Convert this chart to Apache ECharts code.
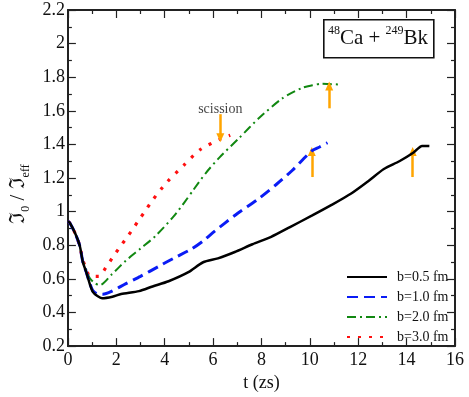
<!DOCTYPE html>
<html>
<head>
<meta charset="UTF-8">
<title>moment of inertia ratio</title>
<script src="https://cdn.jsdelivr.net/npm/echarts@6/dist/echarts.min.js"></script>
<style>
  html, body { margin: 0; padding: 0; background: #fff; }
  #main { width: 469px; height: 397px; }
</style>
</head>
<body>
<div id="main"></div>
<script>
// data
var tB05 = [0, 0.08, 0.29, 0.49, 0.62, 0.76, 0.9, 1.03, 1.22, 1.41, 1.84, 2.2, 2.94, 3.5, 4.16, 4.98, 5.59, 6.2, 6.9, 7.63, 8.4, 9.2, 10.08, 10.9, 11.71, 12.4, 13.06, 13.7, 14.29, 14.64, 14.94];
var yB05 = [0.943, 0.933, 0.874, 0.797, 0.699, 0.64, 0.572, 0.523, 0.498, 0.485, 0.494, 0.51, 0.527, 0.555, 0.586, 0.64, 0.699, 0.722, 0.76, 0.806, 0.85, 0.91, 0.976, 1.04, 1.108, 1.18, 1.254, 1.3, 1.352, 1.391, 1.39];

var tB10 = [0, 0.08, 0.29, 0.49, 0.62, 0.76, 0.9, 1.03, 1.2, 1.44, 1.8, 2.4, 3.0, 3.76, 4.4, 5.1, 5.59, 6.07, 6.94, 7.9, 8.6, 9.27, 10.08, 10.4, 10.73];
var yB10 = [0.943, 0.933, 0.874, 0.797, 0.699, 0.64, 0.575, 0.53, 0.512, 0.508, 0.525, 0.572, 0.615, 0.675, 0.725, 0.777, 0.826, 0.884, 0.982, 1.079, 1.16, 1.245, 1.362, 1.385, 1.41];

var tB20 = [0, 0.08, 0.29, 0.49, 0.62, 0.76, 0.9, 1.1, 1.33, 1.8, 2.4, 3.0, 3.62, 4.37, 4.84, 5.18, 5.7, 6.27, 7.09, 7.9, 8.86, 9.67, 10.1, 10.49, 11.17];
var yB20 = [0.943, 0.933, 0.874, 0.797, 0.705, 0.655, 0.605, 0.575, 0.563, 0.625, 0.709, 0.78, 0.855, 0.972, 1.06, 1.128, 1.23, 1.323, 1.44, 1.557, 1.674, 1.736, 1.752, 1.761, 1.757];

var tB30 = [0, 0.08, 0.29, 0.49, 0.62, 0.76, 0.9, 1.28, 1.58, 1.85, 2.12, 2.4, 2.67, 2.94, 3.21, 3.48, 4.1, 4.78, 5.46, 6.27, 6.71];
var yB30 = [0.943, 0.933, 0.874, 0.797, 0.71, 0.66, 0.615, 0.615, 0.67, 0.728, 0.783, 0.839, 0.894, 0.952, 1.007, 1.065, 1.177, 1.274, 1.368, 1.43, 1.455];

// orange arrows (scission points)
var arrowT    = [6.3, 10.08, 10.8, 14.25];
var arrowFrom = [1.58, 1.206, 1.615, 1.206];
var arrowTo   = [1.44, 1.358, 1.748, 1.358];
var scissionLabel = { t: 6.3, y: 1.611, text: 'scission' };

var seriesNames = ['b=0.5 fm', 'b=1.0 fm', 'b=2.0 fm', 'b=3.0 fm'];

var xTicks = { min: 0, max: 16, interval: 2 };
var yTicks = { min: 0.2, max: 2.2, interval: 0.2 };

function pairs(t, y) {
    var out = [];
    for (var i = 0; i < t.length; i++) out.push([t[i], y[i]]);
    return out;
}

var serif = '"Liberation Serif", "DejaVu Serif", serif';
var axisColor = '#222';

function frameAxis(base, pos, showLabel) {
    return Object.assign({
        type: 'value',
        position: pos,
        axisLine: { show: true, onZero: false, lineStyle: { color: axisColor, width: 2 } },
        axisTick: { show: true, inside: true, length: 8, lineStyle: { color: axisColor, width: 1.2 } },
        minorTick: { show: true, splitNumber: 2, length: 4, lineStyle: { color: axisColor, width: 1.2 } },
        splitLine: { show: false },
        minorSplitLine: { show: false },
        axisLabel: { show: showLabel, color: '#111', fontFamily: serif, fontSize: 18 }
    }, base);
}

var arrowLines = [];
for (var i = 0; i < arrowT.length; i++) {
    arrowLines.push([{ coord: [arrowT[i], arrowFrom[i]] }, { coord: [arrowT[i], arrowTo[i]] }]);
}

var chart = echarts.init(document.getElementById('main'));

var option = {
    animation: false,
    grid: { left: 63, top: 10, right: 14, bottom: 45 },
    xAxis: [
        frameAxis({ min: xTicks.min, max: xTicks.max, interval: xTicks.interval,
            name: 't (zs)', nameLocation: 'middle', nameGap: 25,
            nameTextStyle: { color: '#111', fontFamily: serif, fontSize: 18 },
            axisLabel: { show: true, color: '#111', fontFamily: serif, fontSize: 18, margin: 5 } }, 'bottom', true),
        frameAxis({ min: xTicks.min, max: xTicks.max, interval: xTicks.interval }, 'top', false)
    ],
    yAxis: [
        frameAxis({ min: yTicks.min, max: yTicks.max, interval: yTicks.interval,
            name: '{m|ℑ}{s|0}{m| / ℑ}{s|eff}', nameLocation: 'middle', nameGap: 30, nameRotate: 90,
            nameTextStyle: {
                color: '#111', fontFamily: serif, padding: [0, 32, 0, 0],
                rich: {
                    m: { fontSize: 21, fontFamily: serif, color: '#111', lineHeight: 26, verticalAlign: 'middle' },
                    s: { fontSize: 12, fontFamily: serif, color: '#111', lineHeight: 12, verticalAlign: 'bottom' }
                }
            },
            axisLabel: { show: true, color: '#111', fontFamily: serif, fontSize: 18, margin: 3 } }, 'left', true),
        frameAxis({ min: yTicks.min, max: yTicks.max, interval: yTicks.interval }, 'right', false)
    ],
    legend: {
        data: seriesNames,
        orient: 'vertical',
        left: 341,
        top: 265,
        padding: 5,
        itemWidth: 40,
        itemHeight: 14,
        itemGap: 6,
        itemStyle: { opacity: 0 },
        textStyle: { color: '#111', fontFamily: serif, fontSize: 14, padding: [0, 0, 0, 5] }
    },
    series: [
        {
            name: seriesNames[0], type: 'line', data: pairs(tB05, yB05), symbol: 'none', z: 6, smooth: 0.25,
            lineStyle: { color: '#000', width: 2.5, type: 'solid' }, itemStyle: { color: '#000' }
        },
        {
            name: seriesNames[1], type: 'line', data: pairs(tB10, yB10), symbol: 'none', z: 5, smooth: 0.25,
            lineStyle: { color: '#0a1cf5', width: 3, type: [11, 6] }, itemStyle: { color: '#0a1cf5' }
        },
        {
            name: seriesNames[2], type: 'line', data: pairs(tB20, yB20), symbol: 'none', z: 4, smooth: 0.25,
            lineStyle: { color: '#118811', width: 2, type: [9, 4, 2, 4] }, itemStyle: { color: '#118811' }
        },
        {
            name: seriesNames[3], type: 'line', data: pairs(tB30, yB30), symbol: 'none', z: 3, smooth: 0.25,
            lineStyle: { color: '#ff1010', width: 3.2, type: [3, 8] }, itemStyle: { color: '#ff1010' }
        },
        {
            name: 'arrows', type: 'line', data: [], symbol: 'none', z: 7,
            markLine: {
                silent: true,
                symbol: ['none', 'triangle'],
                symbolSize: [8, 9],
                label: { show: false },
                lineStyle: { color: '#ffa500', width: 2.5, type: 'solid' },
                emphasis: { disabled: true },
                data: arrowLines
            }
        },
        {
            name: 'scission', type: 'scatter', symbolSize: 0, silent: true, z: 7,
            data: [[scissionLabel.t, scissionLabel.y]],
            label: { show: true, position: 'inside', formatter: scissionLabel.text,
                color: '#111', fontFamily: serif, fontSize: 14 }
        }
    ],
    graphic: [
        {
            type: 'rect', left: 323, top: 19, z: 10,
            shape: { width: 110, height: 38 },
            style: { fill: '#fff', stroke: '#111', lineWidth: 1.6 }
        },
        {
            type: 'text', x: 378, y: 38, z: 11,
            style: {
                text: '{p|48}{b|Ca + }{p|249}{b|Bk}',
                align: 'center', verticalAlign: 'middle',
                rich: {
                    p: { fontSize: 12, fontFamily: serif, fill: '#111', lineHeight: 12, verticalAlign: 'top' },
                    b: { fontSize: 21, fontFamily: serif, fill: '#111', lineHeight: 26, verticalAlign: 'middle' }
                }
            }
        }
    ]
};

chart.setOption(option);
</script>
</body>
</html>
